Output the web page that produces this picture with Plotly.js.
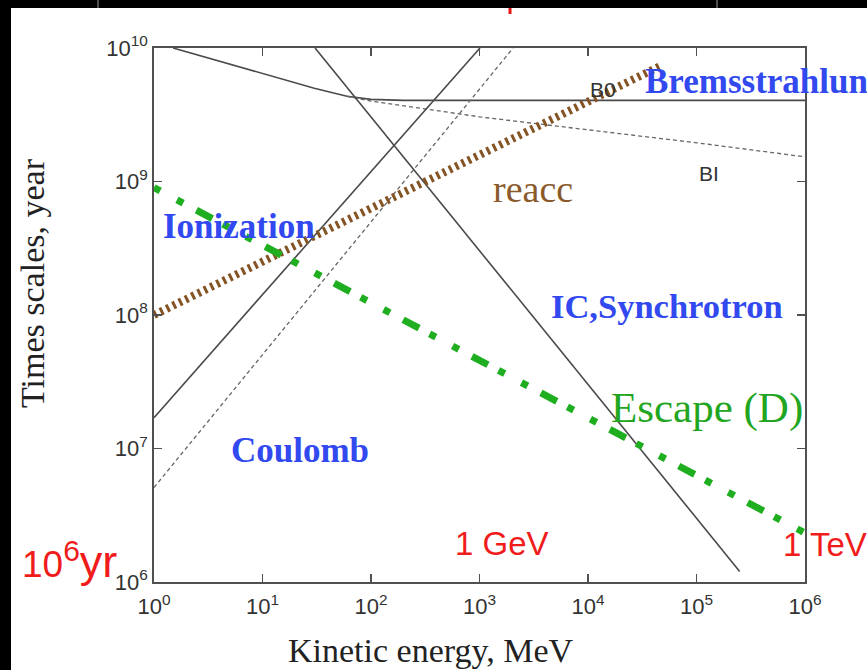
<!DOCTYPE html>
<html>
<head>
<meta charset="utf-8">
<script src="https://cdn.plot.ly/plotly-3.0.1.min.js"></script>
<style>
  html, body { margin: 0; padding: 0; background: #000; }
  #chart { width: 867px; height: 670px; }
</style>
</head>
<body>
<div id="chart"></div>
<script>
// Energy-loss and escape time scales versus kinetic energy (MeV -> years)

// Bremsstrahlung, neutral medium (solid, flattens at B0)
const bremB0Energy = [1.5, 10, 30, 60, 100, 200, 1e6];
const bremB0Time   = [1e10, 6.4e9, 5.0e9, 4.35e9, 4.12e9, 4.05e9, 4.05e9];
// Bremsstrahlung, ionized medium (dashed, BI)
const bremBIEnergy = [60, 100, 1e3, 1e4, 1e5, 1e6];
const bremBITime   = [4.35e9, 4.0e9, 3.05e9, 2.45e9, 1.95e9, 1.53e9];
// Inverse Compton + synchrotron
const icSynEnergy = [30.5, 2.5e5];
const icSynTime   = [1e10, 1.2e6];
// Coulomb / ionization losses (solid and dashed)
const coulSolidEnergy  = [1, 1010];
const coulSolidTime    = [1.7e7, 1e10];
const coulDashedEnergy = [1, 2040];
const coulDashedTime   = [5.1e6, 1e10];
// Reacceleration
const reaccEnergy = [1, 4.6e4];
const reaccTime   = [1.0e8, 7.3e9];
// Diffusive escape
const escapeEnergy = [1, 1e6];
const escapeTime   = [9.0e8, 2.33e6];

// Axis ticks
const xTickVals  = [1, 10, 100, 1e3, 1e4, 1e5, 1e6];
const xTickText  = ['10<sup>0</sup>', '10<sup>1</sup>', '10<sup>2</sup>', '10<sup>3</sup>',
                    '10<sup>4</sup>', '10<sup>5</sup>', '10<sup>6</sup>'];
const yTickVals  = [1e6, 1e7, 1e8, 1e9, 1e10];
const yTickText  = ['10<sup>6</sup>', '10<sup>7</sup>', '10<sup>8</sup>', '10<sup>9</sup>', '10<sup>10</sup>'];

// Plot-area geometry in page pixels, used to place decorations in paper units
const PL = 154, PR = 805, PT = 48, PB = 582;
const PW = PR - PL, PH = PB - PT;
const px = x => (x - PL) / PW;
const py = y => (PB - y) / PH;

const grey = '#4a4a4a';
const traces = [
  { x: bremB0Energy, y: bremB0Time, mode: 'lines', line: { color: grey, width: 1.6 } },
  { x: bremBIEnergy, y: bremBITime, mode: 'lines', line: { color: '#666', width: 1.3, dash: '4px,3px' } },
  { x: icSynEnergy, y: icSynTime, mode: 'lines', line: { color: grey, width: 1.6 } },
  { x: coulSolidEnergy, y: coulSolidTime, mode: 'lines', line: { color: grey, width: 1.6 } },
  { x: coulDashedEnergy, y: coulDashedTime, mode: 'lines', line: { color: '#666', width: 1.3, dash: '4px,3px' } },
  { x: reaccEnergy, y: reaccTime, mode: 'lines', line: { color: '#845425', width: 8, dash: '3px,4px' } },
  { x: escapeEnergy, y: escapeTime, mode: 'lines',
    line: { color: '#1fae1f', width: 7, dash: '7px,19px,7px,15px,18px,12px' } }
];

const serif = 'Liberation Serif, Times New Roman, serif';
const sans = 'Liberation Sans, Arial, sans-serif';
const blue = '#3149ef';
const red = '#f01c1c';

function label(text, x, y, font, extra) {
  return Object.assign({
    text: text, x: px(x), y: py(y), xref: 'paper', yref: 'paper',
    xanchor: 'left', yanchor: 'middle', showarrow: false, font: font
  }, extra || {});
}

const annotations = [
  label('Bremsstrahlung', 643, 81, { family: serif, size: 35, color: blue, weight: 'bold' }),
  label('Ionization', 161, 226, { family: serif, size: 35, color: blue, weight: 'bold' }),
  label('IC,Synchrotron', 549, 306, { family: serif, size: 34.5, color: blue, weight: 'bold' }),
  label('Coulomb', 229, 450, { family: serif, size: 35, color: blue, weight: 'bold' }),
  label('reacc', 491, 189, { family: serif, size: 38, color: '#8a5a2b' }),
  label('Escape (D)', 609, 408, { family: serif, size: 43, color: '#22a622' }),
  label('B0', 588, 90, { family: sans, size: 21, color: '#333' }),
  label('BI', 697, 173, { family: sans, size: 21, color: '#333' }),
  label('1 GeV', 453, 543, { family: sans, size: 33, color: red }),
  label('1 TeV', 781, 544, { family: sans, size: 33, color: red }),
  label('10<sup><span style="font-size:30px">6</span></sup><span style="font-size:45px">yr</span>',
        20, 560, { family: sans, size: 37, color: red }),
  // axis titles
  label('Kinetic energy, MeV', 431, 650, { family: serif, size: 34, color: '#222' }, { xanchor: 'center' }),
  label('Times scales, year', 32, 283, { family: serif, size: 34, color: '#222' }, { xanchor: 'center', textangle: -90 })
];

const shapes = [
  // white canvas, framed by the dark border strips
  { type: 'rect', xref: 'paper', yref: 'paper', layer: 'below',
    x0: px(11), x1: px(867), y0: py(670), y1: py(8),
    fillcolor: '#ffffff', line: { width: 0 } },
  { type: 'line', xref: 'paper', yref: 'paper', x0: px(98), x1: px(98), y0: py(0), y1: py(8),
    line: { color: '#9a9a9a', width: 1 } },
  { type: 'line', xref: 'paper', yref: 'paper', x0: px(717), x1: px(717), y0: py(0), y1: py(8),
    line: { color: '#9a9a9a', width: 1 } },
  { type: 'line', xref: 'paper', yref: 'paper', x0: px(510), x1: px(510), y0: py(8), y1: py(14),
    line: { color: '#e81515', width: 3 } }
];

const axisCommon = {
  type: 'log', showgrid: false, zeroline: false,
  showline: true, mirror: 'ticks', linecolor: '#505050', linewidth: 1.8,
  ticks: 'inside', ticklen: 8, tickwidth: 1.4, tickcolor: '#505050',
  tickfont: { family: sans, size: 22, color: '#333' }
};

const layout = {
  width: 867, height: 670,
  margin: { l: PL, r: 867 - PR, t: PT, b: 670 - PB, pad: 0 },
  paper_bgcolor: '#000000', plot_bgcolor: '#ffffff',
  showlegend: false,
  xaxis: Object.assign({}, axisCommon, {
    range: [0, 6], tickmode: 'array', tickvals: xTickVals, ticktext: xTickText,
    ticklabelstandoff: 4
  }),
  yaxis: Object.assign({}, axisCommon, {
    range: [6, 10], tickmode: 'array', tickvals: yTickVals, ticktext: yTickText
  }),
  annotations: annotations,
  shapes: shapes
};

Plotly.newPlot('chart', traces, layout, { staticPlot: true, displayModeBar: false });
</script>
</body>
</html>
